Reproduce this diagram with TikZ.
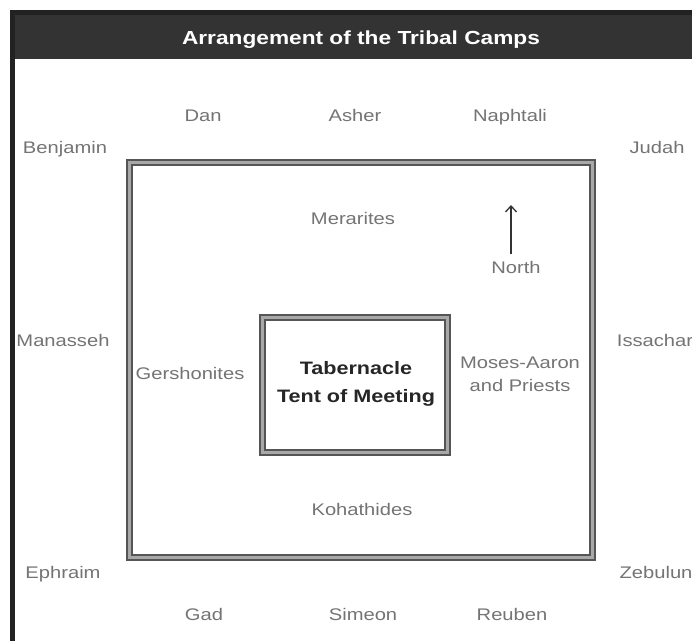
\documentclass[tikz,border=0pt]{standalone}
\usepackage{fontspec}
\usetikzlibrary{arrows.meta}
\setmainfont{Liberation Sans}[FakeStretch=1.2]
\definecolor{hdr}{HTML}{333333}
\definecolor{frm}{HTML}{222222}
\definecolor{lbl}{HTML}{747474}
\definecolor{edge}{HTML}{555555}
\definecolor{mid}{HTML}{A8A8A8}
\begin{document}
\begin{tikzpicture}[x=1pt,y=-1pt,
  tribe/.style={text=lbl,font=\fontsize{16.8}{23}\selectfont,inner sep=0pt,align=center,text height=12pt,text depth=1pt},
  dblbox/.style={draw=edge,line width=2pt,double=mid,double distance=3pt}]
\useasboundingbox (0,0) rectangle (692,641);
\fill[white] (0,0) rectangle (692,641);
% frame and header
\fill[frm] (10,10) rectangle (692,641);
\fill[white] (15,59) rectangle (692,641);
\fill[hdr] (15,15) rectangle (692,59);
\node[text=white,font=\bfseries\fontsize{18.9}{22}\selectfont] (title) at (361,40) {Arrangement of the Tribal Camps};
% boxes
\draw[dblbox] (129,162) rectangle (592,557);
\draw[dblbox] (262.5,317) rectangle (447,452);
\node[font=\bfseries\fontsize{18}{28}\selectfont,text=black!85,align=center] (tab) at (356,384) {Tabernacle\\Tent of Meeting};
% tribes
\node[tribe] (dan) at (203,116) {Dan};
\node[tribe] (asher) at (355,116) {Asher};
\node[tribe] (naph) at (510,116) {Naphtali};
\node[tribe] (benj) at (65,148) {Benjamin};
\node[tribe] (judah) at (657,148) {Judah};
\node[tribe] (man) at (63,341) {Manasseh};
\node[tribe] (iss) at (655,341) {Issachar};
\node[tribe] (eph) at (63,573) {Ephraim};
\node[tribe] (zeb) at (656,573) {Zebulun};
\node[tribe] (gad) at (204,615) {Gad};
\node[tribe] (sim) at (363,615) {Simeon};
\node[tribe] (reu) at (512,615) {Reuben};
% Levites
\node[tribe] (mer) at (353,219) {Merarites};
\node[tribe] (ger) at (190,374) {Gershonites};
\node[tribe] (mos) at (520,386) {Moses-Aaron\\and Priests};
\node[tribe] (koh) at (362,510) {Kohathides};
% north arrow
\node[tribe] (north) at (516,268) {North};
\coordinate (ntip) at (511,205);
\draw[black!80,line width=1.3pt,-{Straight Barb[length=6pt,width=11pt]}] ([yshift=7pt]north.north -| ntip) -- (ntip);
\end{tikzpicture}
\end{document}
